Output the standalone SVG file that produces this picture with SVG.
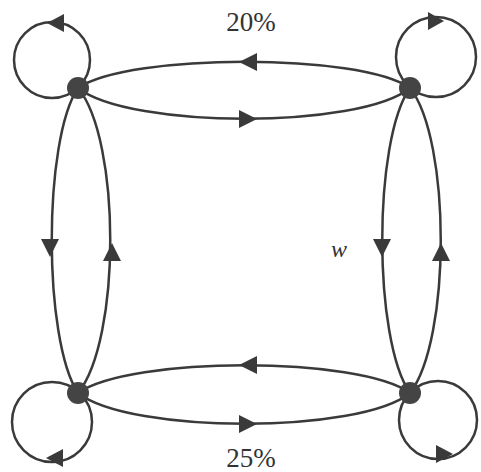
<svg xmlns="http://www.w3.org/2000/svg" width="481" height="472" viewBox="0 0 481 472">
<style>
.e{fill:none;stroke:#3a3a3a;stroke-width:2.5}
.a{fill:#3a3a3a}
.n{fill:#444}
.t{font-family:"Liberation Serif",serif;fill:#333}
</style>
<rect width="481" height="472" fill="#fff"/>
<g id="connectors">
<path class="e" d="M78,88 C130,53 360,53 410,88"/>
<path class="e" d="M78,88 C130,129 360,129 410,88"/>
<path class="e" d="M78,393 C130,356 360,356 410,393"/>
<path class="e" d="M78,393 C130,434 360,434 410,393"/>
<path class="e" d="M78,88 C43,140 43,340 78,393"/>
<path class="e" d="M78,88 C121,140 121,340 78,393"/>
<path class="e" d="M410,88 C373,140 373,340 410,393"/>
<path class="e" d="M410,88 C451,140 451,340 410,393"/>
<circle class="e" cx="52" cy="60" r="38"/>
<circle class="e" cx="436" cy="57" r="40"/>
<circle class="e" cx="52" cy="422" r="40"/>
<circle class="e" cx="438" cy="420" r="39"/>
<polygon class="a" points="239,62 257,53 257,71"/>
<polygon class="a" points="257,119 239,110 239,128"/>
<polygon class="a" points="239,365 257,356 257,374"/>
<polygon class="a" points="257,424 239,415 239,433"/>
<polygon class="a" points="50,257 41,239 59,239"/>
<polygon class="a" points="112,243 103,261 121,261"/>
<polygon class="a" points="382,257 373,239 391,239"/>
<polygon class="a" points="441,243 432,261 450,261"/>
<polygon class="a" points="47,23 64,14 64,32"/>
<polygon class="a" points="444,21 428,12 428,30"/>
<polygon class="a" points="46,458 63,449 63,467"/>
<polygon class="a" points="453,454 436,445 436,463"/>
</g>
<g id="n1"><circle class="n" cx="78" cy="88" r="11"/></g>
<g id="n2"><circle class="n" cx="410" cy="88" r="11"/></g>
<g id="n3"><circle class="n" cx="78" cy="393" r="11"/></g>
<g id="n4"><circle class="n" cx="410" cy="393" r="11"/></g>
<text class="t" x="251" y="31" font-size="27" text-anchor="middle">20%</text>
<text class="t" x="251" y="467" font-size="27" text-anchor="middle">25%</text>
<text class="t" x="339" y="257" font-size="24" font-style="italic" text-anchor="middle">w</text>
</svg>
